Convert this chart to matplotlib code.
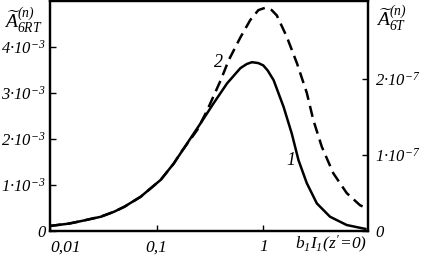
import matplotlib
matplotlib.use("Agg")
import matplotlib.pyplot as plt

plt.rcParams['font.family'] = 'Liberation Serif'
plt.rcParams['font.style'] = 'italic'
plt.rcParams['mathtext.fontset'] = 'custom'
plt.rcParams['mathtext.rm'] = 'Liberation Serif:italic'
plt.rcParams['mathtext.it'] = 'Liberation Serif:italic'
plt.rcParams['mathtext.bf'] = 'Liberation Serif:italic:bold'

# curve 1 (left axis, units 1e-3)
x1 = [0.01, 0.015, 0.02, 0.03, 0.04, 0.05, 0.0709, 0.109, 0.145, 0.194, 0.258,
      0.343, 0.458, 0.61, 0.7, 0.784, 0.9, 1.0, 1.1, 1.25, 1.55, 1.85, 2.14,
      2.56, 3.18, 4.23, 6.06, 9.31]
y1 = [0.11, 0.16, 0.22, 0.31, 0.42, 0.53, 0.746, 1.11, 1.47, 1.91, 2.34,
      2.78, 3.21, 3.54, 3.63, 3.67, 3.65, 3.60, 3.49, 3.28, 2.70, 2.12, 1.54,
      1.04, 0.60, 0.31, 0.13, 0.04]
# curve 2 (right axis, units 1e-7)
x2 = [0.01, 0.015, 0.02, 0.03, 0.04, 0.05, 0.0709, 0.109, 0.145, 0.168, 0.24,
      0.298, 0.40, 0.474, 0.61, 0.756, 0.9, 1.04, 1.2, 1.34, 1.66, 2.07,
      2.56, 2.95, 3.54, 4.54, 6.06, 8.07, 9.6]
y2 = [0.067, 0.097, 0.133, 0.19, 0.254, 0.32, 0.451, 0.672, 0.89, 1.03, 1.33,
      1.59, 1.99, 2.25, 2.55, 2.78, 2.91, 2.94, 2.91, 2.84, 2.56, 2.21,
      1.82, 1.46, 1.11, 0.76, 0.50, 0.34, 0.29]

xticks = [0.01, 0.1, 1]
xticklabels = ['0,01', '0,1', '1']
lticks = [0, 1, 2, 3, 4]
lticklabels = ['0', '1·10$^{-3}$', '2·10$^{-3}$', '3·10$^{-3}$', '4·10$^{-3}$']
rticks = [0, 1, 2]
rticklabels = ['0', '1·10$^{-7}$', '2·10$^{-7}$']

fig = plt.figure(figsize=(4.21, 2.59), dpi=100)
ax = fig.add_axes([50/421, 28/259, 318/421, 230/259])
ax.set_xscale('log')
ax.set_xlim(0.01, 9.6)
ax.set_ylim(0, 5.0)
ax.plot(x1, y1, color='black', lw=1.8, solid_capstyle='butt', solid_joinstyle='round')
ax2 = ax.twinx()
ax2.set_ylim(0, 3.03)
ax2.plot(x2, y2, color='black', lw=1.8, linestyle=(0, (4.5, 2.5)))

for a in (ax, ax2):
    for s in a.spines.values():
        s.set_linewidth(1.6)

ax.set_xticks(xticks)
ax.set_xticklabels(xticklabels, fontsize=12.5)
ax.minorticks_off()
ax.tick_params(axis='x', which='major', direction='in', length=4, width=1, pad=6)
ax.set_yticks(lticks)
ax.set_yticklabels(lticklabels, fontsize=12)
ax.tick_params(axis='y', direction='in', length=4, width=1, pad=3)
ax2.set_yticks(rticks)
ax2.set_yticklabels(rticklabels, fontsize=12)
ax2.tick_params(axis='y', direction='in', length=4, width=1, pad=5)
ax.get_xticklabels()[0].set_horizontalalignment('left')
ax.get_xticklabels()[0].set_x(0.0088)

fig.text(4/421, 1 - 20/259, r'$\widetilde{A}^{(n)}_{6RT}$', fontsize=14, va='center', ha='left')
fig.text(376/421, 1 - 18/259, r'$\widetilde{A}^{(n)}_{6T}$', fontsize=14, va='center', ha='left')
fig.text(367/421, 1 - 244/259, r"$b_1I_1(z'\!=\!0)$", fontsize=12.5, va='center', ha='right')

ax.text(0.38, 3.67, '2', fontsize=13, ha='center', va='center')
ax.text(1.83, 1.54, '1', fontsize=13, ha='center', va='center')

fig.savefig('out.png', dpi=100)
